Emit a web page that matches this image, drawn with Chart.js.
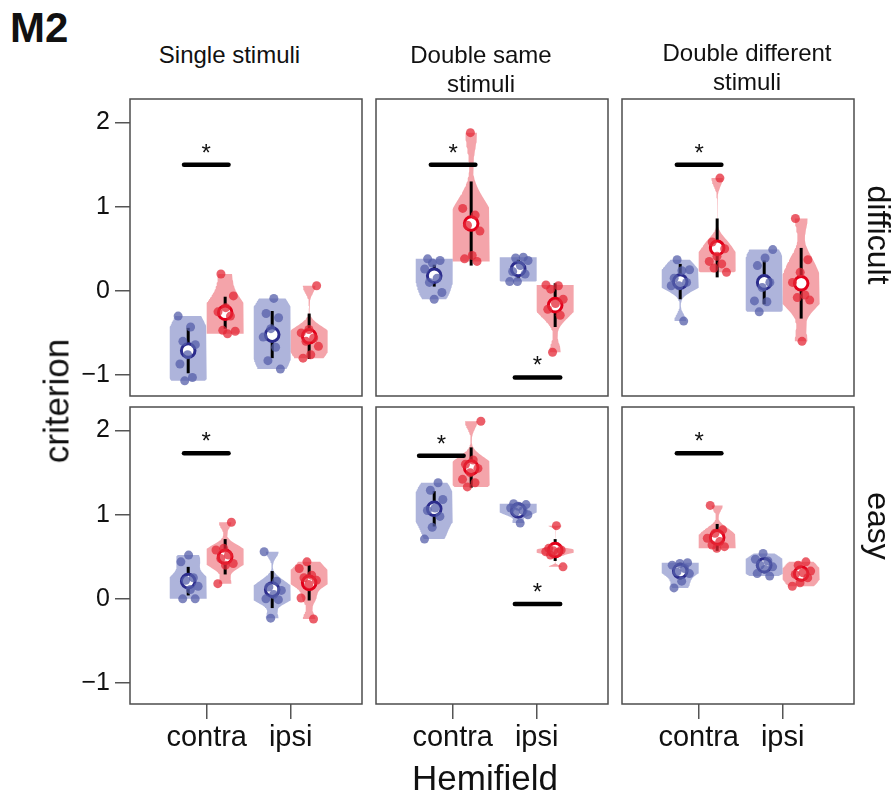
<!DOCTYPE html>
<html><head><meta charset="utf-8">
<script src="https://cdn.jsdelivr.net/npm/chart.js@4/dist/chart.umd.min.js"></script>
<style>
html,body{margin:0;padding:0;background:#fff;}
body{width:891px;height:796px;position:relative;overflow:hidden;font-family:'Liberation Sans',Arial,Helvetica,sans-serif;color:#111;}
.t{position:absolute;white-space:nowrap;line-height:1;}
canvas{position:absolute;}
</style></head><body>
<script>
// ---------------- data ----------------
const conditions = ['Single stimuli', 'Double same\nstimuli', 'Double different\nstimuli'];
const difficulties = ['difficult', 'easy'];
const hemifields = ['contra', 'ipsi'];
const yTicks = [-1, 0, 1, 2];
const yTickLabels = ['\u22121', '0', '1', '2'];
// group order inside every panel: contra-blue, contra-red, ipsi-blue, ipsi-red

const pointsSingleDifficult = [
  [-0.30, -0.43, -0.60, -0.64, -0.76, -0.87, -1.03, -1.07],
  [0.20, -0.06, -0.20, -0.25, -0.30, -0.47, -0.48, -0.51],
  [-0.09, -0.27, -0.32, -0.45, -0.55, -0.67, -0.83, -0.93],
  [0.06, -0.46, -0.50, -0.56, -0.60, -0.66, -0.76, -0.80]];
const meansSingleDifficult = [-0.71, -0.26, -0.52, -0.54];
const sdsSingleDifficult = [0.27, 0.19, 0.28, 0.27];

const pointsSameDifficult = [
  [0.38, 0.36, 0.33, 0.26, 0.15, 0.10, -0.02, -0.10],
  [1.88, 0.98, 0.90, 0.78, 0.71, 0.42, 0.38, 0.35],
  [0.40, 0.39, 0.36, 0.30, 0.23, 0.20, 0.11, 0.11],
  [0.07, 0.06, 0.02, -0.10, -0.15, -0.22, -0.29, -0.73]];
const meansSameDifficult = [0.18, 0.80, 0.26, -0.17];
const sdsSameDifficult = [0.13, 0.50, 0.11, 0.26];

const pointsDifferentDifficult = [
  [0.37, 0.25, 0.24, 0.15, 0.10, 0.06, 0.06, -0.36],
  [1.34, 0.58, 0.50, 0.41, 0.35, 0.32, 0.27, 0.22],
  [0.49, 0.39, 0.30, 0.10, 0.04, -0.12, -0.13, -0.25],
  [0.86, 0.37, 0.22, 0.10, -0.05, -0.08, -0.11, -0.60]];
const meansDifferentDifficult = [0.11, 0.51, 0.10, 0.09];
const sdsDifferentDifficult = [0.21, 0.35, 0.26, 0.42];

const pointsSingleEasy = [
  [0.52, 0.44, 0.25, 0.22, 0.15, 0.11, 0.00, 0.00],
  [0.91, 0.60, 0.58, 0.52, 0.48, 0.42, 0.40, 0.18],
  [0.56, 0.21, 0.14, 0.10, 0.05, 0.00, -0.01, -0.23],
  [0.44, 0.36, 0.28, 0.25, 0.22, 0.17, 0.01, -0.24]];
const meansSingleEasy = [0.21, 0.50, 0.11, 0.19];
const sdsSingleEasy = [0.17, 0.21, 0.22, 0.21];

const pointsSameEasy = [
  [1.38, 1.29, 1.18, 1.08, 1.05, 0.98, 0.85, 0.71],
  [2.11, 1.65, 1.60, 1.55, 1.50, 1.42, 1.38, 1.33],
  [1.13, 1.12, 1.10, 1.08, 1.05, 1.03, 1.00, 0.90],
  [0.87, 0.60, 0.58, 0.57, 0.56, 0.55, 0.52, 0.38]];
const meansSameEasy = [1.07, 1.56, 1.05, 0.58];
const sdsSameEasy = [0.21, 0.24, 0.07, 0.13];

const pointsDifferentEasy = [
  [0.43, 0.42, 0.40, 0.36, 0.32, 0.30, 0.21, 0.13],
  [1.11, 0.82, 0.78, 0.72, 0.68, 0.64, 0.62, 0.60],
  [0.54, 0.47, 0.45, 0.40, 0.38, 0.35, 0.30, 0.27],
  [0.44, 0.40, 0.33, 0.31, 0.29, 0.25, 0.19, 0.15]];
const meansDifferentEasy = [0.33, 0.73, 0.40, 0.30];
const sdsDifferentEasy = [0.10, 0.16, 0.09, 0.09];

// significance bars (panel index 0..5, x-range in hemifield units, level)
const sigPanel = [0, 1, 1, 2, 3, 4, 4, 5];
const sigFrom  = [0.73, 0.74, 1.74, 0.74, 0.73, 0.60, 1.74, 0.74];
const sigTo    = [1.26, 1.27, 2.28, 1.27, 1.26, 1.13, 2.28, 1.27];
const sigLevel = [1.50, 1.50, -1.03, 1.50, 1.73, 1.70, -0.06, 1.73];

// ---------------- layout / style ----------------
const FONT = "'Liberation Sans', Arial, Helvetica, sans-serif";
const PANEL_LEFT = [130, 376, 622], PANEL_W = 232;
const PANEL_TOP = [99, 407], PANEL_H = 297;
const AXW = 80, AXH = 55, PAD = 30, BPAD = 5;
const X_MIN = 0.087, X_MAX = 2.849, Y_MIN = -1.25, Y_MAX = 2.28;
const SIDE_OFFSET = [-0.22, 0.22];
const VIOLIN_HALF = 0.22, VIOLIN_GAIN = 1.3;
const COLORS = {
  violin: ['rgba(120,130,195,0.6)', 'rgba(235,90,100,0.55)'],
  point: ['rgba(85,95,170,0.75)', 'rgba(228,40,55,0.75)'],
  mean: ['#2c2c8c', '#e2001a']
};

const panelPoints = [pointsSingleDifficult, pointsSameDifficult, pointsDifferentDifficult,
                     pointsSingleEasy, pointsSameEasy, pointsDifferentEasy];
const panelMeans = [meansSingleDifficult, meansSameDifficult, meansDifferentDifficult,
                    meansSingleEasy, meansSameEasy, meansDifferentEasy];
const panelSds = [sdsSingleDifficult, sdsSameDifficult, sdsDifferentDifficult,
                  sdsSingleEasy, sdsSameEasy, sdsDifferentEasy];

// ---------- helpers ----------
function quantile(s, p) {
  const h = (s.length - 1) * p, lo = Math.floor(h), hi = Math.min(lo + 1, s.length - 1);
  return s[lo] + (h - lo) * (s[hi] - s[lo]);
}
function bwNrd0(x) {
  const n = x.length, m = x.reduce((a, b) => a + b, 0) / n;
  const sd = Math.sqrt(x.reduce((a, b) => a + (b - m) * (b - m), 0) / (n - 1));
  const s = x.slice().sort((a, b) => a - b);
  let lo = Math.min(sd, (quantile(s, 0.75) - quantile(s, 0.25)) / 1.34);
  if (!(lo > 0)) lo = sd || Math.abs(s[0]) || 1;
  return 0.9 * lo * Math.pow(n, -0.2);
}
function violinOutline(vals, cx) {
  const h = bwNrd0(vals);
  const lo = Math.min(...vals), hi = Math.max(...vals);
  const N = 80, ys = [], ds = [];
  for (let i = 0; i < N; i++) {
    const y = lo + (hi - lo) * i / (N - 1);
    let d = 0;
    for (const v of vals) d += Math.exp(-0.5 * ((y - v) / h) ** 2);
    ys.push(y); ds.push(d);
  }
  const mx = Math.max(...ds);
  const w = ds.map(d => VIOLIN_HALF * Math.min(1, VIOLIN_GAIN * d / mx));
  const left = ys.map((y, i) => ({x: cx - w[i], y}));
  const right = ys.map((y, i) => ({x: cx + w[i], y})).reverse();
  return left.concat(right);
}
function jitter(i, g, p) {
  return ((((i * 0.618034 + g * 0.29 + p * 0.173) % 1) + 1) % 1 - 0.5) * 0.24;
}

const boxPlugin = {
  id: 'box',
  afterDraw(chart) {
    const {ctx, chartArea: a} = chart;
    ctx.save();
    ctx.strokeStyle = '#4d4d4d'; ctx.lineWidth = 1.5;
    ctx.strokeRect(a.left, a.top, a.right - a.left, a.bottom - a.top);
    ctx.restore();
  }
};
const starPlugin = {
  id: 'stars',
  afterDatasetsDraw(chart, args, opts) {
    const {ctx} = chart, xs = chart.scales.x, ys = chart.scales.y;
    ctx.save();
    ctx.fillStyle = '#111'; ctx.font = '24px ' + FONT;
    ctx.textAlign = 'center'; ctx.textBaseline = 'alphabetic';
    sigPanel.forEach((p, k) => {
      if (p !== opts.panel) return;
      const x = xs.getPixelForValue((sigFrom[k] + sigTo[k]) / 2);
      const y = ys.getPixelForValue(sigLevel[k]) - 4;
      ctx.fillText('*', x, y);
    });
    ctx.restore();
  }
};

function addText(txt, style) {
  const d = document.createElement('div');
  d.className = 't';
  d.textContent = txt;
  Object.assign(d.style, style);
  document.body.appendChild(d);
  return d;
}

// ---------- build panels ----------
for (let r = 0; r < 2; r++) {
  for (let c = 0; c < 3; c++) {
    const p = r * 3 + c;
    const showX = r === 1, showY = c === 0;
    const cv = document.createElement('canvas');
    const W = AXW + PANEL_W + PAD, H = PAD + PANEL_H + (showX ? AXH + BPAD : PAD);
    cv.width = W; cv.height = H;
    cv.style.width = W + 'px'; cv.style.height = H + 'px';
    cv.style.left = (PANEL_LEFT[c] - AXW) + 'px';
    cv.style.top = (PANEL_TOP[r] - PAD) + 'px';
    document.body.appendChild(cv);

    const datasets = [];
    panelPoints[p].forEach((vals, g) => {
      const side = g % 2, hemi = Math.floor(g / 2);
      const cx = 1 + hemi + SIDE_OFFSET[side];
      datasets.push({
        type: 'line', data: violinOutline(vals, cx), order: 5,
        showLine: true, fill: 'shape', backgroundColor: COLORS.violin[side],
        borderColor: 'rgba(0,0,0,0)', borderWidth: 1, pointRadius: 0, tension: 0
      });
      const m = panelMeans[p][g], s = panelSds[p][g];
      datasets.push({
        type: 'line', data: [{x: cx, y: m - s}, {x: cx, y: m + s}], order: 4,
        showLine: true, fill: false, borderColor: '#000', borderWidth: 3, pointRadius: 0
      });
      datasets.push({
        type: 'scatter', data: [{x: cx, y: m}], order: 3,
        pointRadius: 6.8, borderWidth: 3, borderColor: COLORS.mean[side], backgroundColor: '#fff'
      });
      datasets.push({
        type: 'scatter', data: vals.map((v, i) => ({x: cx + jitter(i, g, p), y: v})), order: 2,
        pointRadius: 4.5, borderWidth: 0, backgroundColor: COLORS.point[side]
      });
    });
    sigPanel.forEach((sp, k) => {
      if (sp !== p) return;
      datasets.push({
        type: 'line', data: [{x: sigFrom[k], y: sigLevel[k]}, {x: sigTo[k], y: sigLevel[k]}], order: 1,
        showLine: true, fill: false, borderColor: '#000', borderWidth: 4.5, borderCapStyle: 'round', pointRadius: 0
      });
    });

    new Chart(cv, {
      type: 'scatter',
      data: {datasets},
      options: {
        responsive: false, animation: false, events: [],
        layout: {padding: {left: showY ? 0 : AXW, right: PAD, top: PAD, bottom: showX ? BPAD : PAD}},
        plugins: {legend: {display: false}, tooltip: {enabled: false}, stars: {panel: p}},
        scales: {
          x: {
            type: 'linear', min: X_MIN, max: X_MAX, display: showX,
            afterFit(s) { s.height = showX ? AXH : 0; },
            afterBuildTicks(s) { s.ticks = hemifields.map((h, i) => ({value: i + 1})); },
            ticks: {callback: (v) => hemifields[Math.round(v) - 1], font: {size: 29, family: FONT},
                    color: '#111', padding: 2, maxRotation: 0, autoSkip: false},
            grid: {drawOnChartArea: false, tickLength: 15, color: '#555', lineWidth: 1.5},
            border: {display: false}
          },
          y: {
            type: 'linear', min: Y_MIN, max: Y_MAX, display: showY,
            afterFit(s) { s.width = showY ? AXW : 0; },
            afterBuildTicks(s) { s.ticks = yTicks.map(v => ({value: v})); },
            ticks: {callback: (v) => yTickLabels[yTicks.indexOf(v)], font: {size: 25, family: FONT},
                    color: '#111', padding: 5, autoSkip: false},
            grid: {drawOnChartArea: false, tickLength: 15, color: '#555', lineWidth: 1.5},
            border: {display: false}
          }
        }
      },
      plugins: [boxPlugin, starPlugin]
    });
  }
}

// ---------- text ----------
addText('M2', {left: '10px', top: '7px', fontSize: '42px', fontWeight: 'bold', color: '#111'});
const titleCenters = [229.5, 481, 747], titleTops = [43, 40, 38];
conditions.forEach((t, i) => {
  const d = addText('', {left: titleCenters[i] + 'px', top: titleTops[i] + 'px', fontSize: '24px',
    lineHeight: '29px', textAlign: 'center', transform: 'translateX(-50%)'});
  d.innerHTML = t.split('\n').join('<br>');
  if (i === 0) d.style.lineHeight = '24px';
});
addText('Hemifield', {left: '485px', top: '760px', fontSize: '35px', transform: 'translateX(-50%)'});
addText('criterion', {left: '56px', top: '401px', fontSize: '35px', transform: 'translate(-50%,-50%) rotate(-90deg)'});
const diffCenters = [235, 526];
difficulties.forEach((t, i) => {
  addText(t, {left: '879px', top: diffCenters[i] + 'px', fontSize: '32px', transform: 'translate(-50%,-50%) rotate(90deg)'});
});
</script>
</body></html>
